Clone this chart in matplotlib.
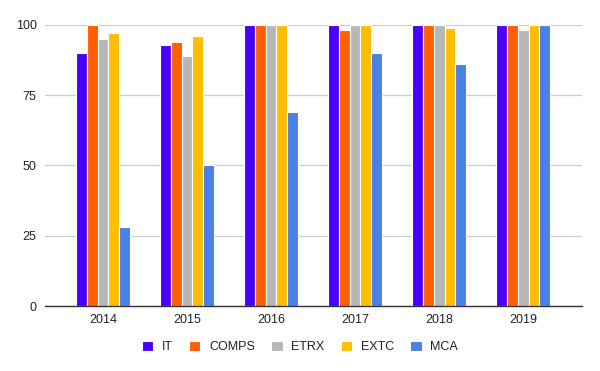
import numpy as np
import matplotlib
matplotlib.use("Agg")
import matplotlib.pyplot as plt

years = ["2014", "2015", "2016", "2017", "2018", "2019"]
series_names = ["IT", "COMPS", "ETRX", "EXTC", "MCA"]
it_vals = [90, 93, 100, 100, 100, 100]
comps_vals = [100, 94, 100, 98, 100, 100]
etrx_vals = [95, 89, 100, 100, 100, 98]
extc_vals = [97, 96, 100, 100, 99, 100]
mca_vals = [28, 50, 69, 90, 86, 100]
colors = ["#4a00ff", "#ff5f00", "#b7b7b7", "#ffbd00", "#4a80e8"]

all_vals = [it_vals, comps_vals, etrx_vals, extc_vals, mca_vals]

plt.rcParams['font.family'] = ['Liberation Sans', 'DejaVu Sans']

fig = plt.figure(figsize=(6.0, 3.71), dpi=100)
ax = fig.add_axes([0.075, 0.175, 0.895, 0.758])

x = np.arange(len(years))
w = 0.128
for i, (name, vals) in enumerate(zip(series_names, all_vals)):
    offs = (i - 2) * w
    ax.bar(x + offs, vals, width=w, color=colors[i], edgecolor="white",
           linewidth=0.8, label=name, zorder=3)

ax.set_xlim(-0.69, 5.70)
ax.set_ylim(0, 100)
ax.set_yticks([0, 25, 50, 75, 100])
ax.set_xticks(x)
ax.set_xticklabels(years)
ax.grid(axis="y", color="#cccccc", linewidth=0.9, zorder=0)
ax.tick_params(length=0, labelsize=9, colors="#222222", pad=6)
for s in ["top", "right", "left"]:
    ax.spines[s].set_visible(False)
ax.spines["bottom"].set_color("#333333")
ax.spines["bottom"].set_linewidth(1.0)
ax.spines["bottom"].set_zorder(4)

leg = fig.legend(loc="center", bbox_to_anchor=(0.5, 0.065), ncol=5, frameon=False,
                 fontsize=9, handlelength=0.9, handleheight=0.9,
                 columnspacing=1.3, handletextpad=0.7)
for t in leg.get_texts():
    t.set_color("#222222")

fig.savefig("out.png", dpi=100)
